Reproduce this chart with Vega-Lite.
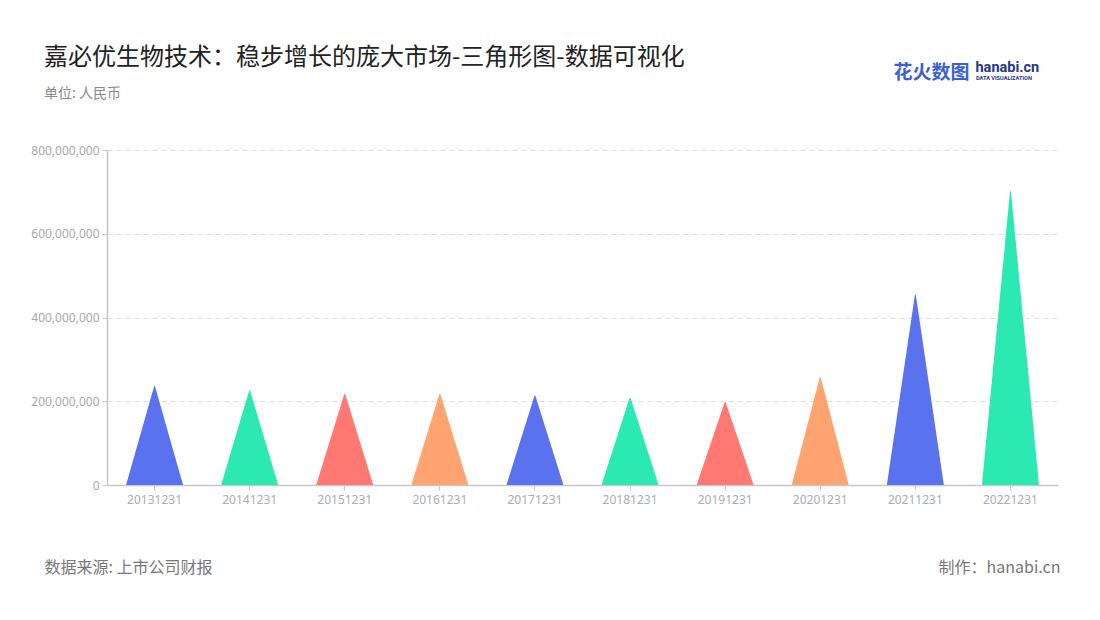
{
  "$schema": "https://vega.github.io/schema/vega-lite/v6.json",
  "width": 951,
  "height": 335,
  "autosize": "none",
  "padding": {"left": 107, "top": 150, "right": 42, "bottom": 135},
  "background": "#ffffff",
  "config": {
    "font": "Noto Sans CJK SC",
    "view": {"stroke": null}
  },
  "title": {
    "text": "嘉必优生物技术：稳步增长的庞大市场-三角形图-数据可视化",
    "subtitle": "单位: 人民币",
    "anchor": "start",
    "frame": "group",
    "dx": -63,
    "offset": -42,
    "fontSize": 24,
    "fontWeight": "normal",
    "color": "#222222",
    "subtitleFontSize": 14,
    "subtitleColor": "#8a8a8a",
    "subtitlePadding": 17
  },
  "data": {
    "values": [
      {"date": "20131231", "part": "m", "value": 235000000},
      {"date": "20141231", "part": "m", "value": 225000000},
      {"date": "20151231", "part": "m", "value": 217000000},
      {"date": "20161231", "part": "m", "value": 216500000},
      {"date": "20171231", "part": "m", "value": 212500000},
      {"date": "20181231", "part": "m", "value": 208000000},
      {"date": "20191231", "part": "m", "value": 197500000},
      {"date": "20201231", "part": "m", "value": 257000000},
      {"date": "20211231", "part": "m", "value": 453000000},
      {"date": "20221231", "part": "m", "value": 701000000}
    ]
  },
  "transform": [
    {"impute": "value", "key": "part", "keyvals": ["l", "r"], "groupby": ["date"], "value": 0}
  ],
  "resolve": {"axis": {"x": "independent", "y": "independent"}},
  "layer": [
    {
      "mark": {"type": "trail", "clip": true},
      "encoding": {
        "x": {
          "field": "date",
          "type": "nominal",
          "scale": {"type": "band", "paddingInner": 0.4, "paddingOuter": 0.2},
          "axis": {
            "labelAngle": 0,
            "labelColor": "#a9adb8",
            "labelFontSize": 12,
            "labelFont": "Noto Sans",
            "labelPadding": 4,
            "tickColor": "#c8c8c8",
            "tickSize": 5,
            "domainColor": "#c8c8c8",
            "domainWidth": 1.5,
            "title": "数据来源: 上市公司财报",
            "titleX": -63,
            "titleY": 82,
            "titleAlign": "left",
            "titleBaseline": "middle",
            "titleAnchor": null,
            "titleFontSize": 16,
            "titleFontWeight": "normal",
            "titleColor": "#777777"
          }
        },
        "y": {
          "field": "value",
          "type": "quantitative",
          "stack": null,
          "scale": {"domain": [0, 800000000]},
          "axis": {
            "values": [0, 200000000, 400000000, 600000000, 800000000],
            "format": ",d",
            "labelColor": "#a9a9a9",
            "labelFontSize": 12,
            "labelFont": "Noto Sans",
            "labelPadding": 3,
            "tickColor": "#c8c8c8",
            "tickSize": 5,
            "domainColor": "#c8c8c8",
            "domainWidth": 1.5,
            "grid": true,
            "gridColor": "#dddddd",
            "gridDash": [5, 4],
            "gridWidth": 1,
            "title": "制作：hanabi.cn",
            "titleAngle": 0,
            "titleX": 953,
            "titleY": 417,
            "titleAlign": "right",
            "titleBaseline": "middle",
            "titleFontSize": 16,
            "titleFontWeight": "normal",
            "titleColor": "#777777"
          }
        },
        "size": {
          "field": "part",
          "type": "ordinal",
          "legend": null,
          "scale": {"type": "ordinal", "domain": ["l", "m", "r"], "range": [57, 0, 57]}
        },
        "color": {
          "field": "date",
          "type": "nominal",
          "legend": null,
          "scale": {
            "range": ["#5b72ee", "#2ce8b1", "#ff7872", "#ffa370", "#5b72ee", "#2ce8b1", "#ff7872", "#ffa370", "#5b72ee", "#2ce8b1"]
          }
        },
        "order": {"field": "part", "type": "nominal", "sort": "ascending"}
      }
    },
    {
      "mark": {"type": "point", "opacity": 0},
      "encoding": {
        "x": {
          "field": "date",
          "type": "nominal",
          "axis": {
            "orient": "top",
            "labels": false,
            "ticks": false,
            "domain": false,
            "grid": false,
            "title": "花火数图",
            "titleX": 786,
            "titleY": -78,
            "titleAlign": "left",
            "titleBaseline": "middle",
            "titleFontSize": 19,
            "titleFontWeight": "bold",
            "titleColor": "#3d5fd6"
          }
        },
        "y": {
          "field": "value",
          "type": "quantitative",
          "axis": {
            "orient": "right",
            "labels": false,
            "ticks": false,
            "domain": false,
            "grid": false,
            "title": "hanabi.cn",
            "titleAngle": 0,
            "titleX": -83,
            "titleY": -83,
            "titleAlign": "left",
            "titleBaseline": "middle",
            "titleFontSize": 14.5,
            "titleFontWeight": "bold",
            "titleFont": "Roboto",
            "titleColor": "#26358a"
          }
        },
        "shape": {
          "field": "part",
          "type": "nominal",
          "legend": {
            "orient": "none",
            "legendX": 869,
            "legendY": -74,
            "padding": 0,
            "title": "DATA VISUALIZATION",
            "titleFont": "Roboto",
            "titleFontSize": 5.6,
            "titleFontWeight": "bold",
            "titleColor": "#26358a",
            "titlePadding": 0,
            "labelExpr": "''",
            "symbolOpacity": 0,
            "symbolSize": 0,
            "symbolStrokeWidth": 0,
            "labelFontSize": 1
          }
        }
      }
    }
  ]
}
